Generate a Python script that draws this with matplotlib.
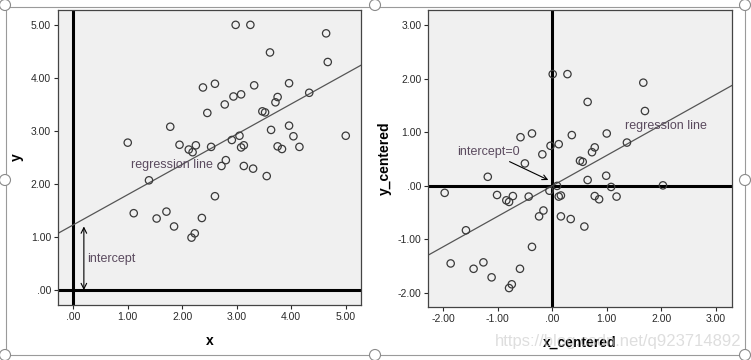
# Regressao: dados originais vs centrados
import matplotlib.pyplot as plt
from matplotlib.patches import Rectangle, Ellipse

# pontos do painel esquerdo (x, y)
x = [2.98, 3.25, 4.64, 4.67, 3.61, 2.38, 2.60, 3.32, 3.96, 4.33,
     2.94, 3.08, 2.78, 2.46, 3.75, 3.71, 3.47, 3.52, 1.78, 3.63,
     3.96, 4.04, 5.00, 1.00, 1.95, 2.12, 2.19, 2.25, 2.53, 2.91,
     3.05, 3.08, 3.13, 3.75, 3.83, 4.15, 2.80, 2.72, 3.13, 3.30,
     3.55, 1.39, 2.60, 1.11, 1.53, 1.71, 1.85, 2.36, 2.17, 2.23]
y = [5.00, 5.00, 4.84, 4.30, 4.48, 3.82, 3.89, 3.86, 3.90, 3.72,
     3.65, 3.69, 3.50, 3.34, 3.64, 3.54, 3.37, 3.35, 3.08, 3.02,
     3.10, 2.90, 2.91, 2.78, 2.74, 2.65, 2.60, 2.73, 2.70, 2.83,
     2.91, 2.69, 2.73, 2.71, 2.66, 2.70, 2.45, 2.34, 2.34, 2.29,
     2.15, 2.07, 1.77, 1.45, 1.35, 1.48, 1.20, 1.36, 0.99, 1.07]

# pontos do painel direito (centrados)
x_centered = [0.01, 0.28, 1.67, 1.70, 0.65, -0.58, -0.37, 0.36, 1.00, 1.37,
              -0.03, 0.12, -0.18, -0.50, 0.78, 0.73, 0.51, 0.56, -1.18, 0.65,
              0.99, 1.08, 2.03, -1.97, -1.01, -0.84, -0.79, -0.72, -0.43, -0.05,
              0.09, 0.12, 0.16, 0.78, 0.86, 1.18, -0.16, -0.24, 0.16, 0.34,
              0.59, -1.58, -0.37, -1.86, -1.44, -1.26, -1.11, -0.59, -0.79, -0.74]
y_centered = [2.09, 2.09, 1.93, 1.40, 1.57, 0.91, 0.98, 0.95, 0.98, 0.81,
              0.75, 0.78, 0.59, 0.42, 0.72, 0.63, 0.47, 0.45, 0.17, 0.11,
              0.19, -0.02, 0.01, -0.13, -0.17, -0.27, -0.30, -0.19, -0.20, -0.09,
              0.00, -0.20, -0.18, -0.19, -0.25, -0.20, -0.46, -0.57, -0.57, -0.62,
              -0.76, -0.83, -1.14, -1.45, -1.55, -1.43, -1.71, -1.55, -1.91, -1.84]

# retas de regressao (intercepto, inclinacao)
reg_left = (1.23, 0.57)
reg_right = (0.0, 0.57)

ticks_left = [0, 1, 2, 3, 4, 5]
ticks_right = [-2, -1, 0, 1, 2, 3]

plt.rcParams['font.family'] = ['Liberation Sans', 'DejaVu Sans']


def fmt(v):
    s = f'{v:.2f}'
    return s.replace('0.00', '.00') if v == 0 else s


def style(ax, ticks, lim):
    ax.set_facecolor('#f0f0f0')
    ax.set_xlim(lim)
    ax.set_ylim(lim)
    ax.set_xticks(ticks)
    ax.set_yticks(ticks)
    ax.set_xticklabels([fmt(t) for t in ticks])
    ax.set_yticklabels([fmt(t) for t in ticks])
    ax.tick_params(direction='out', length=3, width=0.8, labelsize=7.5,
                   colors='#2a2a2a', pad=2)
    for s in ax.spines.values():
        s.set_color('#444444')
        s.set_linewidth(0.9)
    ax.axhline(0, color='black', lw=2.2, zorder=2)
    ax.axvline(0, color='black', lw=2.2, zorder=2)


fig = plt.figure(figsize=(7.51, 3.6), dpi=100)

# moldura da imagem
fig.patches.append(Rectangle((6 / 751, 5 / 360), 739 / 751, 348 / 360,
                             transform=fig.transFigure, fill=False,
                             ec='#9a9a9a', lw=0.8, zorder=0))
for (px, py) in [(5, 5), (375, 5), (745, 5), (5, 180), (745, 180),
                 (5, 355), (375, 355), (745, 355)]:
    fig.patches.append(Ellipse((px / 751, 1 - py / 360), 11 / 751, 11 / 360,
                               transform=fig.transFigure, fc='white',
                               ec='#8a8a8a', lw=0.8, zorder=5))

ax1 = fig.add_axes([0.0772, 0.1528, 0.4035, 0.8194])
ax2 = fig.add_axes([0.5703, 0.1464, 0.404, 0.826])

# painel esquerdo
style(ax1, ticks_left, (-0.28, 5.28))
ax1.scatter(x, y, s=28, facecolors='none', edgecolors='#3a3a3a',
            linewidths=0.9, zorder=3)
ax1.axline((0, reg_left[0]), slope=reg_left[1], color='#555555', lw=0.9, zorder=2)
ax1.text(1.06, 2.36, 'regression line', fontsize=9, color='#5a4a5e',
         va='center', zorder=4)
ax1.annotate('', xy=(0.195, 1.2), xytext=(0.195, 0.0),
             arrowprops=dict(arrowstyle='<->', color='black', lw=0.8,
                             shrinkA=0, shrinkB=0))
ax1.text(0.26, 0.58, 'intercept', fontsize=9, color='#5a4a5e', va='center')
ax1.set_xlabel('x', fontsize=10, fontweight='bold', labelpad=9)
ax1.set_ylabel('y', fontsize=10, fontweight='bold', labelpad=5)

# painel direito
style(ax2, ticks_right, (-2.27, 3.29))
ax2.scatter(x_centered, y_centered, s=28, facecolors='none',
            edgecolors='#3a3a3a', linewidths=0.9, zorder=3)
ax2.axline((0, reg_right[0]), slope=reg_right[1], color='#555555', lw=0.9, zorder=2)
ax2.text(1.34, 1.12, 'regression line', fontsize=9, color='#5a4a5e',
         va='center', zorder=4)
ax2.annotate('intercept=0', xy=(-0.07, 0.11), xytext=(-1.74, 0.64),
             fontsize=9, color='#5a4a5e', va='center',
             arrowprops=dict(arrowstyle='->', color='black', lw=0.8,
                             shrinkA=2, shrinkB=0))
ax2.set_xlabel('x_centered', fontsize=10, fontweight='bold', labelpad=8)
ax2.set_ylabel('y_centered', fontsize=10, fontweight='bold', labelpad=4)

# marca d'agua
fig.text(0.987, 0.052, 'https://blog.csdn.net/q923714892', fontsize=12,
         color='#c8c8c8', alpha=0.6, ha='right', va='center')

fig.savefig('out.png', dpi=100)
